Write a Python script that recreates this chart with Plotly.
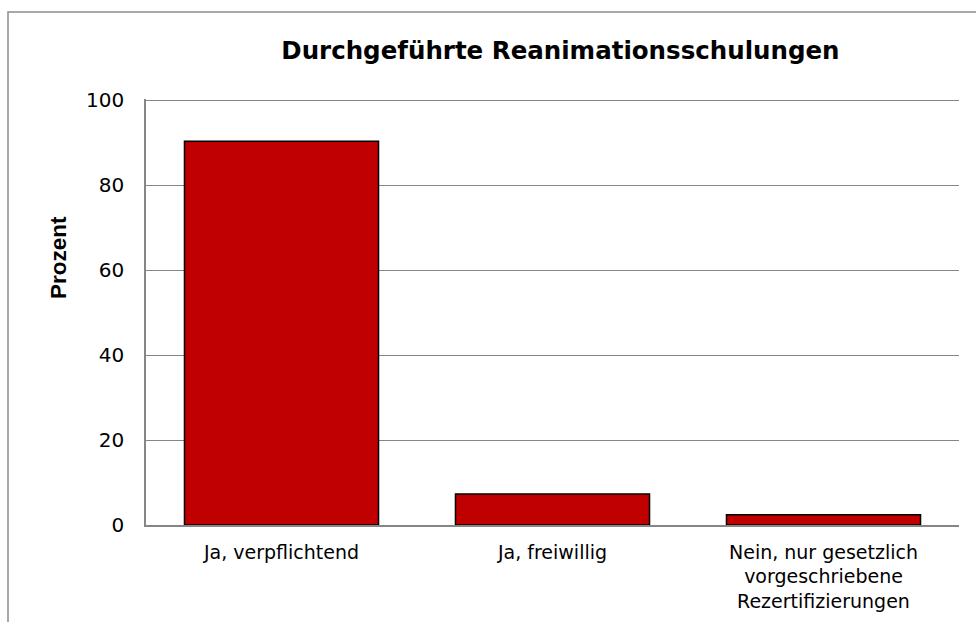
import plotly.graph_objects as go

categories = ["Ja, verpflichtend", "Ja, freiwillig",
              "Nein, nur gesetzlich<br>vorgeschriebene<br>Rezertifizierungen"]
values = [90.3, 7.3, 2.4]
y_ticks = [0, 20, 40, 60, 80, 100]

W, H = 976, 622
L, R, T, B = 146, 17, 99, 97

fig = go.Figure()
fig.add_trace(go.Bar(
    x=categories, y=values,
    marker=dict(color="#C00000", line=dict(color="#000000", width=1.5)),
    hoverinfo="x+y",
))

pw = W - L - R
ph = H - T - B

fig.update_layout(
    width=W, height=H,
    margin=dict(l=L, r=R, t=T, b=B, pad=0, autoexpand=False),
    paper_bgcolor="white", plot_bgcolor="white",
    bargap=0.284,
    showlegend=False,
    title=dict(text="<b>Durchgeführte Reanimationsschulungen</b>",
               x=497.5 / W, xanchor="center", xref="paper",
               y=1 - 50.5 / H, yanchor="middle", yref="container",
               font=dict(family="DejaVu Sans", size=24.5, color="#000000")),
    xaxis=dict(showgrid=False, showline=True, linecolor="#868686", linewidth=1.5,
               ticks="", tickfont=dict(family="DejaVu Sans", size=19, color="#000000"),
               ticklabelstandoff=9, automargin=False, fixedrange=True),
    yaxis=dict(range=[0, 100.25], tickvals=y_ticks, showgrid=True,
               gridcolor="#868686", gridwidth=1.3,
               showline=True, linecolor="#868686", linewidth=1.5,
               ticks="", ticklabelstandoff=16, zeroline=False, automargin=False,
               tickfont=dict(family="DejaVu Sans", size=20, color="#000000"),
               fixedrange=True),
    annotations=[dict(text="<b>Prozent</b>", textangle=-90,
                      xref="paper", yref="paper",
                      x=(58 - L) / pw, y=(H - B - 258) / ph,
                      xanchor="center", yanchor="middle", showarrow=False,
                      font=dict(family="Liberation Sans", size=22.5, color="#000000"))],
    shapes=[dict(type="rect", xref="paper", yref="paper",
                 x0=(8 - L) / pw, x1=(W + 20 - L) / pw,
                 y0=(H - B - (H + 20)) / ph, y1=(H - B - 12) / ph,
                 line=dict(color="#8c8c8c", width=1.5), fillcolor="rgba(0,0,0,0)",
                 layer="below")],
)

fig.write_html("out.html")
